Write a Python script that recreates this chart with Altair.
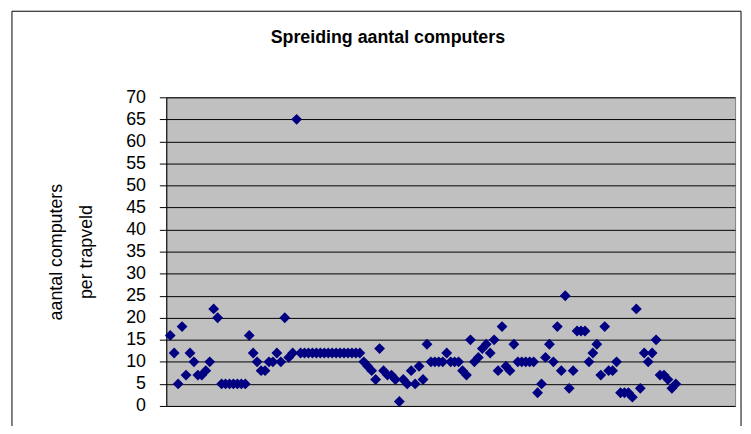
import altair as alt
import pandas as pd

# values (one point per trapveld, in order)
aantal = [16, 12, 5, 18, 7, 12, 10, 7, 7, 8, 10, 22, 20,
          5, 5, 5, 5, 5, 5, 5,
          16, 12, 10, 8, 8, 10, 10, 12, 10, 20, 11, 12, 65,
          12, 12, 12, 12, 12, 12, 12, 12, 12, 12, 12, 12, 12, 12, 12, 12,
          10, 9, 8, 6, 13, 8, 7, 7, 6, 1, 6, 5, 8, 5, 9, 6, 14,
          10, 10, 10, 10, 12, 10, 10, 10, 8, 7,
          15, 10, 11, 13, 14, 12, 15, 8, 18, 9, 8, 14,
          10, 10, 10, 10, 10, 3, 5, 11, 14, 10, 18, 8, 25, 4, 8,
          17, 17, 17, 10, 12, 14, 7, 18, 8, 8, 10,
          3, 3, 3, 2, 22, 4, 12, 10, 12, 15, 7, 7, 6, 4, 5]
punt = list(range(1, len(aantal) + 1))
y_ticks = list(range(0, 75, 5))
titel = "Spreiding aantal computers"
y_titel = ["aantal computers", "per trapveld"]

df = pd.DataFrame({"punt": punt, "aantal": aantal})
FONT = "Arial, Liberation Sans, sans-serif"

frame = alt.Chart(pd.DataFrame({"k": [0]})).mark_rect(
    fillOpacity=0, stroke="black", strokeWidth=1
).encode(
    x=alt.value(-156), x2=alt.value(581), y=alt.value(-87), y2=alt.value(360)
)

title_txt = alt.Chart(pd.DataFrame({"t": [titel]})).mark_text(
    font=FONT, fontSize=18, fontWeight="bold", color="black",
    align="center", baseline="middle",
).encode(text="t:N", x=alt.value(224), y=alt.value(-60))

pts = alt.Chart(df).mark_point(
    shape="diamond", filled=True, size=120, color="#000080", opacity=1, strokeWidth=0
).encode(
    x=alt.X("punt:Q", scale=alt.Scale(domain=[0, 144], nice=False, zero=False), axis=None),
    y=alt.Y(
        "aantal:Q",
        scale=alt.Scale(domain=[0, 70], nice=False),
        axis=alt.Axis(
            values=y_ticks, title=y_titel, grid=True, gridColor="black", gridOpacity=1,
            gridWidth=1, domainColor="black", domainWidth=1, tickColor="black", tickSize=7,
            labelFont=FONT, labelFontSize=18, labelColor="black", labelPadding=14,
            titleFont=FONT, titleFontSize=18, titleFontWeight="normal", titleColor="black",
            titleLineHeight=30, titleX=-111, titleY=156, titleAngle=270,
            titleAlign="center", titleBaseline="middle",
        ),
    ),
)

chart = alt.layer(frame, title_txt, pts).properties(
    width=575,
    height=312,
    padding={"left": 160, "top": 88, "right": 8, "bottom": 18},
    autosize=alt.AutoSizeParams(type="none"),
    background="white",
).configure_view(fill="#C0C0C0", stroke="#808080", strokeWidth=1)

chart.save("out.html", embed_options={"renderer": "svg", "actions": False})
